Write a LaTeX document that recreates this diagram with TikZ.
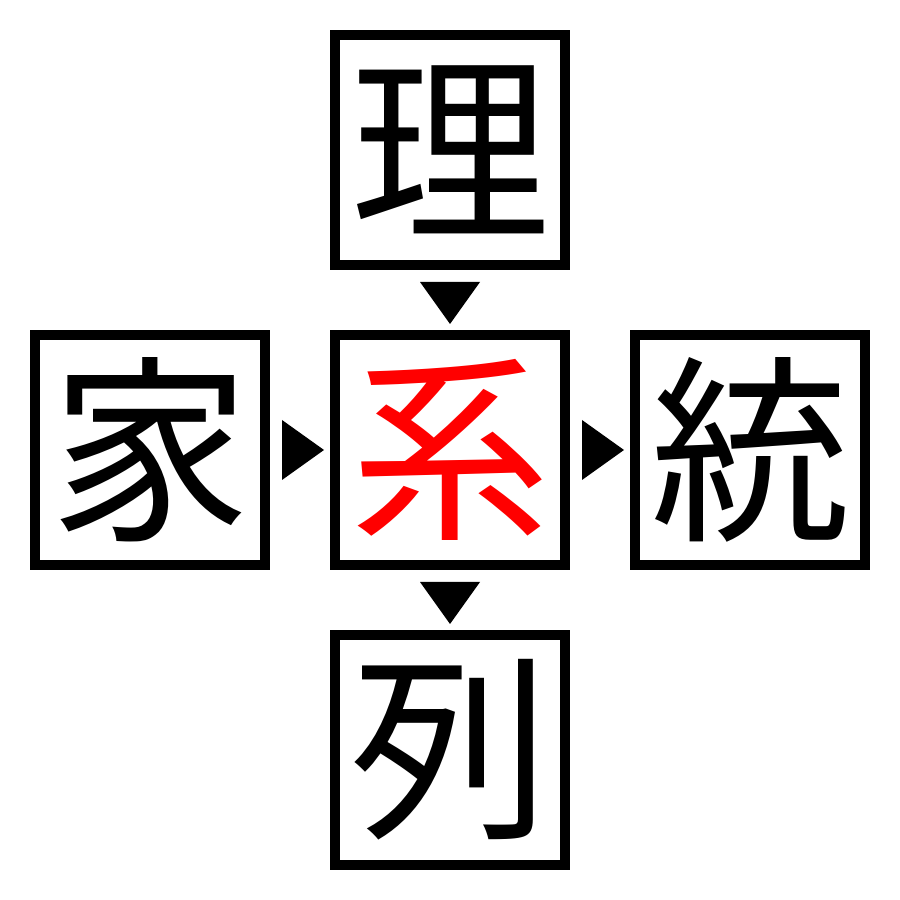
\documentclass[tikz,border=0pt]{standalone}
\usepackage{fontspec}
\newfontfamily\cjk{Noto Sans CJK JP}
\usepackage{tikz}
\usetikzlibrary{positioning}
\usetikzlibrary{calc}

\begin{document}
\begin{tikzpicture}[on grid,node distance=300pt,
  kanji/.style={draw,line width=10pt,minimum size=230pt,inner sep=0pt,font=\cjk\fontsize{200}{200}\selectfont},
  marker/.style={fill=black}]

  \useasboundingbox (0,0) rectangle (900pt,900pt);

  \node[kanji,text=red] (kei) at (450pt,450pt) {系};
  \node[kanji] (ri) [above=of kei] {理};
  \node[kanji] (ie) [left=of kei] {家};
  \node[kanji] (tou) [right=of kei] {統};
  \node[kanji] (retsu) [below=of kei] {列};

  \path (ri) -- (kei) coordinate[midway] (m1);
  \path (kei) -- (retsu) coordinate[midway] (m2);
  \path (ie) -- (kei) coordinate[midway] (m3);
  \path (kei) -- (tou) coordinate[midway] (m4);

  % triangles between the boxes
  \foreach \m in {m1,m2} {
    \fill[marker] ($(\m)+(-30pt,18pt)$) -- ($(\m)+(30pt,18pt)$) -- ($(\m)+(0,-24pt)$) -- cycle;
  }
  \foreach \m in {m3,m4} {
    \fill[marker] ($(\m)+(-18pt,30pt)$) -- ($(\m)+(-18pt,-30pt)$) -- ($(\m)+(24pt,0)$) -- cycle;
  }
\end{tikzpicture}
\end{document}
